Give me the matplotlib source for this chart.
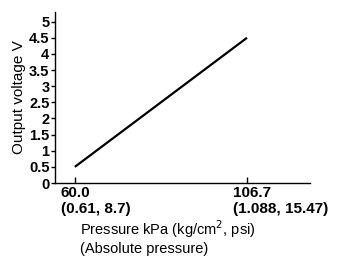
import numpy as np
import matplotlib.pyplot as plt
import matplotlib.transforms as mtransforms

pressure_kpa = [60.0, 106.7]
output_voltage = [0.5, 4.5]
xtick_values = [60.0, 106.7]
xtick_labels = ["60.0\n(0.61, 8.7)", "106.7\n(1.088, 15.47)"]
ytick_values = [0, 0.5, 1, 1.5, 2, 2.5, 3, 3.5, 4, 4.5, 5]
ytick_labels = ["0", "0.5", "1", "1.5", "2", "2.5", "3", "3.5", "4", "4.5", "5"]

plt.rcParams.update({
    "font.family": ["Liberation Sans", "DejaVu Sans"],
    "font.size": 10,
})

fig = plt.figure(figsize=(3.37, 2.66), dpi=100)
ax = fig.add_axes([0.163, 0.312, 0.757, 0.643])

ax.plot(pressure_kpa, output_voltage, color="black", linewidth=1.6, solid_capstyle="butt")

ax.set_xlim(54.6, 123.8)
ax.set_ylim(0, 5.3)

ax.spines["top"].set_visible(False)
ax.spines["right"].set_visible(False)
ax.spines["left"].set_linewidth(1.0)
ax.spines["bottom"].set_linewidth(1.0)

ax.set_yticks(ytick_values, ytick_labels, fontweight="bold", fontsize=10.5)
ax.tick_params(axis="y", direction="out", length=3, width=1, pad=1)

ax.set_xticks(xtick_values, xtick_labels, fontweight="bold", fontsize=11,
              ha="left", multialignment="left")
ax.tick_params(axis="x", direction="in", length=4, width=1, pad=2)
offset = mtransforms.ScaledTranslation(-10 / 72, 0, fig.dpi_scale_trans)
for lbl in ax.get_xticklabels():
    lbl.set_transform(lbl.get_transform() + offset)

ax.set_ylabel("Output voltage V", fontsize=11, labelpad=2)
ax.text(0.1, -0.205, "Pressure kPa (kg/cm$^2$, psi)\n(Absolute pressure)",
        transform=ax.transAxes, ha="left", va="top", fontsize=10.5,
        linespacing=1.2)

fig.savefig("out.png", dpi=100)
